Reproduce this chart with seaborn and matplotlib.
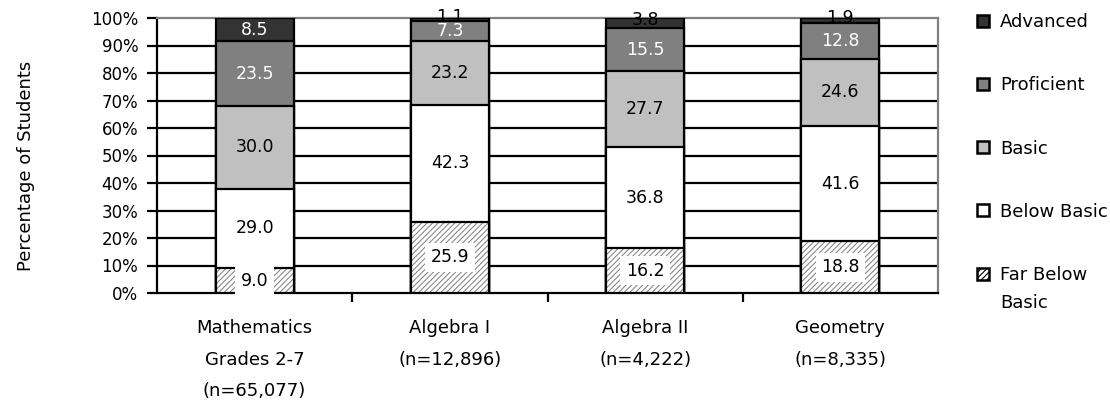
import numpy as np
import pandas as pd
import matplotlib
matplotlib.use("Agg")
import matplotlib.pyplot as plt
import seaborn as sns
from matplotlib.patches import Patch, Rectangle
from matplotlib.legend_handler import HandlerPatch
from matplotlib.ticker import PercentFormatter

categories = ["Mathematics\nGrades 2-7\n(n=65,077)", "Algebra I\n(n=12,896)",
              "Algebra II\n(n=4,222)", "Geometry\n(n=8,335)"]
levels = ["Far Below Basic", "Below Basic", "Basic", "Proficient", "Advanced"]
far_below = [9.0, 25.9, 16.2, 18.8]
below_basic = [29.0, 42.3, 36.8, 41.6]
basic = [30.0, 23.2, 27.7, 24.6]
proficient = [23.5, 7.3, 15.5, 12.8]
advanced = [8.5, 1.1, 3.8, 1.9]

colors = {"Far Below Basic": "white", "Below Basic": "white", "Basic": "#c0c0c0",
          "Proficient": "#808080", "Advanced": "#333333"}
text_colors = {"Far Below Basic": "black", "Below Basic": "black", "Basic": "black",
               "Proficient": "white", "Advanced": "white"}

sns.set_theme(style="white", rc={"text.color": "black", "axes.labelcolor": "black",
                                 "xtick.color": "black", "ytick.color": "black"})
plt.rcParams['font.family'] = ['DejaVu Sans']
plt.rcParams['hatch.linewidth'] = 0.8

FS = 12.5

vals = np.array([far_below, below_basic, basic, proficient, advanced])
norm = vals / vals.sum(axis=0) * 100
cum = np.cumsum(norm, axis=0)
df = pd.DataFrame({"category": categories})
for i, lv in enumerate(levels):
    df[lv] = cum[i]

fig = plt.figure(figsize=(11.1, 4.07), dpi=100)
ax = fig.add_axes([157/1110, 1-293/407, (938-157)/1110, (293-18)/407])

LW = 1.6
for i in range(len(levels) - 1, -1, -1):
    lv = levels[i]
    if lv == "Far Below Basic":
        sns.barplot(data=df, x="category", y=lv, order=categories, color="white",
                    edgecolor="#8a8a8a", linewidth=0, hatch="//////", width=0.4,
                    saturation=1, ax=ax, zorder=3)
        sns.barplot(data=df, x="category", y=lv, order=categories, color="black",
                    fill=False, linewidth=LW, width=0.4, ax=ax, zorder=3)
    else:
        sns.barplot(data=df, x="category", y=lv, order=categories, color=colors[lv],
                    edgecolor="black", linewidth=LW, width=0.4, saturation=1,
                    ax=ax, zorder=3)

# data labels
for j in range(len(categories)):
    for i, lv in enumerate(levels):
        lo = cum[i - 1][j] if i > 0 else 0
        mid = (lo + cum[i][j]) / 2
        seg = norm[i][j]
        color = text_colors[lv]
        if seg < 5:
            color = "black"
            mid += 1.0
        kw = {}
        if lv == "Far Below Basic":
            kw["bbox"] = dict(facecolor="white", edgecolor="none", pad=4)
        ax.text(j, mid, f"{vals[i][j]:.1f}", ha="center", va="center",
                fontsize=FS, color=color, zorder=5, **kw)

ax.set_ylim(0, 100)
ax.set_xlim(-0.5, 3.5)
ax.set_yticks(np.arange(0, 101, 10))
ax.yaxis.set_major_formatter(PercentFormatter(decimals=0))
ax.yaxis.grid(True, color="black", linewidth=LW, zorder=1)
ax.set_axisbelow(True)
ax.get_ygridlines()[-1].set_visible(False)
ax.get_ygridlines()[0].set_visible(False)

for s in ["top", "right"]:
    ax.spines[s].set_color("#808080")
    ax.spines[s].set_linewidth(LW)
for s in ["left", "bottom"]:
    ax.spines[s].set_color("black")
    ax.spines[s].set_linewidth(LW)

ax.set_xticks([0.5, 1.5, 2.5], minor=True)
ax.tick_params(axis="x", which="minor", length=6.5, width=LW, color="black", bottom=True)
ax.tick_params(axis="x", which="major", length=0, pad=19, labelsize=13)
ax.tick_params(axis="y", which="major", length=7, width=LW, color="black", left=True,
               labelsize=12, pad=6.5)
for t in ax.get_xticklabels():
    t.set_linespacing(1.95)
    t.set_verticalalignment("top")

ax.set_xlabel("")
ax.set_ylabel("Percentage of Students", fontsize=13)
ax.yaxis.set_label_coords((35 - 157) / 781, (293 - 166) / 275)


class ShiftedPatch(HandlerPatch):
    def __init__(self, shift=0.0, **kw):
        super().__init__(**kw)
        self.shift = shift

    def create_artists(self, legend, orig_handle, xdescent, ydescent, width, height,
                       fontsize, trans):
        p = Rectangle((-xdescent, -ydescent + self.shift), width, height)
        self.update_prop(p, orig_handle, legend)
        p.set_transform(trans)
        return [p]


handles = []
labels = []
for lv in reversed(levels):
    if lv == "Far Below Basic":
        handles.append(Patch(facecolor="white", edgecolor="black", hatch="//////", linewidth=1.8))
        labels.append("Far Below\nBasic")
    else:
        handles.append(Patch(facecolor=colors[lv], edgecolor="black", linewidth=1.8))
        labels.append(lv)
leg = fig.legend(handles, labels, loc="upper left", bbox_to_anchor=(970/1110, 1-6/407),
                 frameon=False, labelspacing=2.5, handlelength=0.65, handleheight=0.65,
                 handletextpad=0.6, fontsize=13, borderaxespad=0,
                 handler_map={handles[-1]: ShiftedPatch(shift=11)})
for t in leg.get_texts():
    t.set_linespacing(1.7)

fig.savefig("out.png", dpi=100)
